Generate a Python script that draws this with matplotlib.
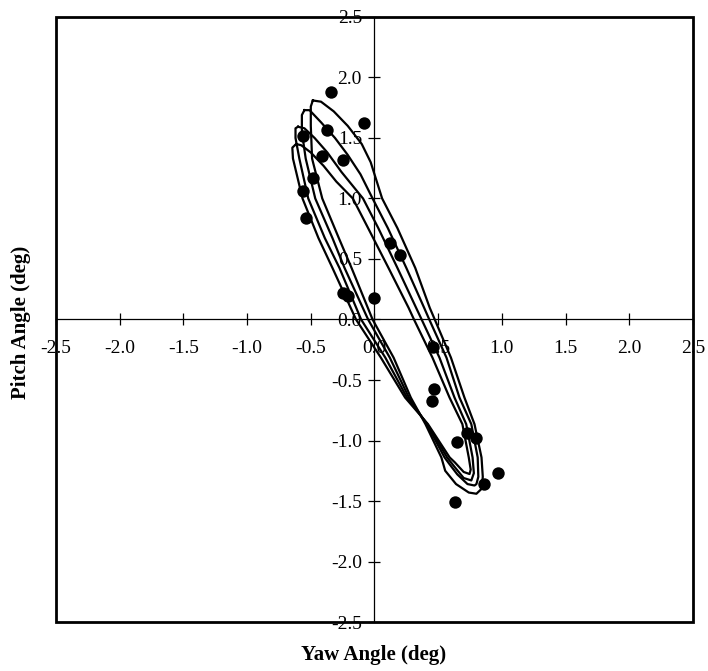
import matplotlib
matplotlib.use("Agg")
import matplotlib.pyplot as plt
from matplotlib.patches import Rectangle

plt.rcParams['font.family'] = ['Liberation Serif', 'DejaVu Serif']

# Measured yaw/pitch points (deg)
yaw_meas = [-0.34, -0.08, -0.37, -0.565, -0.415, -0.245, -0.48, -0.565, -0.54,
            0.12, 0.20, -0.25, -0.21, 0.0, 0.46, 0.47, 0.45, 0.65, 0.725, 0.795,
            0.97, 0.86, 0.63]
pitch_meas = [1.88, 1.62, 1.565, 1.52, 1.35, 1.32, 1.17, 1.06, 0.84,
              0.63, 0.535, 0.22, 0.195, 0.175, -0.23, -0.575, -0.67, -1.01, -0.94, -0.98,
              -1.265, -1.36, -1.51]

# Simulated limit-cycle loops (yaw, pitch), traced clockwise from the upper apex
loop1_yaw = [-0.484, -0.42, -0.32, -0.21, -0.10, -0.03, 0.06, 0.18, 0.32, 0.434, 0.473,
             0.60, 0.706, 0.785, 0.84, 0.85, 0.84, 0.80,
             0.74, 0.64, 0.555, 0.525, 0.40, 0.285, 0.15, -0.015, -0.18, -0.28, -0.41,
             -0.49, -0.50, -0.50, -0.484]
loop1_pitch = [1.81, 1.80, 1.72, 1.60, 1.45, 1.30, 1.0, 0.755, 0.426, 0.096, 0.0,
               -0.315, -0.645, -0.865, -1.14, -1.30, -1.40, -1.44,
               -1.43, -1.36, -1.25, -1.14, -0.865, -0.645, -0.315, 0.0, 0.426, 0.673, 1.0,
               1.33, 1.6, 1.76, 1.81]

loop2_yaw = [-0.55, -0.51, -0.42, -0.31, -0.21, -0.11, -0.015, 0.105, 0.25, 0.39, 0.43,
             0.565, 0.667, 0.76, 0.81, 0.815, 0.80, 0.785,
             0.73, 0.65, 0.585, 0.55, 0.41, 0.27, 0.12, -0.05, -0.235, -0.33, -0.465,
             -0.54, -0.57, -0.57, -0.55]
loop2_pitch = [1.73, 1.73, 1.63, 1.50, 1.36, 1.20, 1.0, 0.755, 0.426, 0.096, 0.0,
               -0.315, -0.645, -0.865, -1.14, -1.30, -1.36, -1.372,
               -1.36, -1.28, -1.19, -1.14, -0.865, -0.645, -0.315, 0.0, 0.426, 0.673, 1.0,
               1.33, 1.55, 1.69, 1.73]

loop3_yaw = [-0.60, -0.55, -0.47, -0.37, -0.26, -0.09, 0.03, 0.18, 0.327, 0.37,
             0.51, 0.628, 0.72, 0.77, 0.78, 0.76,
             0.70, 0.63, 0.57, 0.415, 0.255, 0.085, -0.105, -0.275, -0.39, -0.52,
             -0.59, -0.62, -0.62, -0.60]
loop3_pitch = [1.593, 1.58, 1.50, 1.38, 1.22, 1.0, 0.755, 0.426, 0.096, 0.0,
               -0.315, -0.645, -0.865, -1.14, -1.27, -1.33,
               -1.31, -1.22, -1.14, -0.865, -0.645, -0.315, 0.0, 0.426, 0.673, 1.0,
               1.33, 1.50, 1.58, 1.593]

loop4_yaw = [-0.615, -0.575, -0.50, -0.40, -0.30, -0.17, -0.05, 0.11, 0.268, 0.31,
             0.455, 0.589, 0.69, 0.74, 0.755, 0.746,
             0.70, 0.63, 0.59, 0.42, 0.24, 0.05, -0.145, -0.33, -0.44, -0.565,
             -0.64, -0.645, -0.615]
loop4_pitch = [1.45, 1.44, 1.38, 1.27, 1.14, 1.0, 0.755, 0.426, 0.096, 0.0,
               -0.315, -0.645, -0.865, -1.14, -1.24, -1.277,
               -1.26, -1.18, -1.14, -0.865, -0.645, -0.315, 0.0, 0.426, 0.673, 1.0,
               1.33, 1.42, 1.45]

ticks = [-2.5, -2.0, -1.5, -1.0, -0.5, 0.0, 0.5, 1.0, 1.5, 2.0, 2.5]
tick_labels = ['-2.5', '-2.0', '-1.5', '-1.0', '-0.5', '0.0', '0.5', '1.0', '1.5', '2.0', '2.5']

fig = plt.figure(figsize=(7.08, 6.71), dpi=100)
ax = fig.add_axes([0.0791, 0.0730, 0.8997, 0.9017])

for lx, ly in [(loop1_yaw, loop1_pitch), (loop2_yaw, loop2_pitch),
               (loop3_yaw, loop3_pitch), (loop4_yaw, loop4_pitch)]:
    ax.plot(lx, ly, color='black', lw=1.6, solid_joinstyle='round', zorder=3)

ax.scatter(yaw_meas, pitch_meas, s=80, color='black', zorder=4, linewidths=0)

ax.set_xlim(-2.5, 2.5)
ax.set_ylim(-2.5, 2.5)

# Axis lines crossing at the origin
ax.spines['left'].set_position(('data', 0))
ax.spines['bottom'].set_position(('data', 0))
ax.spines['right'].set_visible(False)
ax.spines['top'].set_visible(False)
for s in ('left', 'bottom'):
    ax.spines[s].set_linewidth(0.9)

ax.set_xticks(ticks)
ax.set_xticklabels(tick_labels)
ax.set_yticks(ticks)
ax.set_yticklabels(tick_labels)
ax.tick_params(axis='both', direction='inout', length=8, width=0.9, labelsize=14)
ax.tick_params(axis='x', pad=11)
ax.tick_params(axis='y', pad=5)

# Outer frame
ax.add_patch(Rectangle((0, 0), 1, 1, transform=ax.transAxes, fill=False,
                       lw=2.0, edgecolor='black', zorder=6, clip_on=False))

fig.text(0.030, 0.52, 'Pitch Angle (deg)', rotation=90, ha='center', va='center',
         fontsize=15, fontweight='bold')
fig.text(0.528, 0.024, 'Yaw Angle (deg)', ha='center', va='center',
         fontsize=15, fontweight='bold')

fig.savefig('out.png', dpi=100)
